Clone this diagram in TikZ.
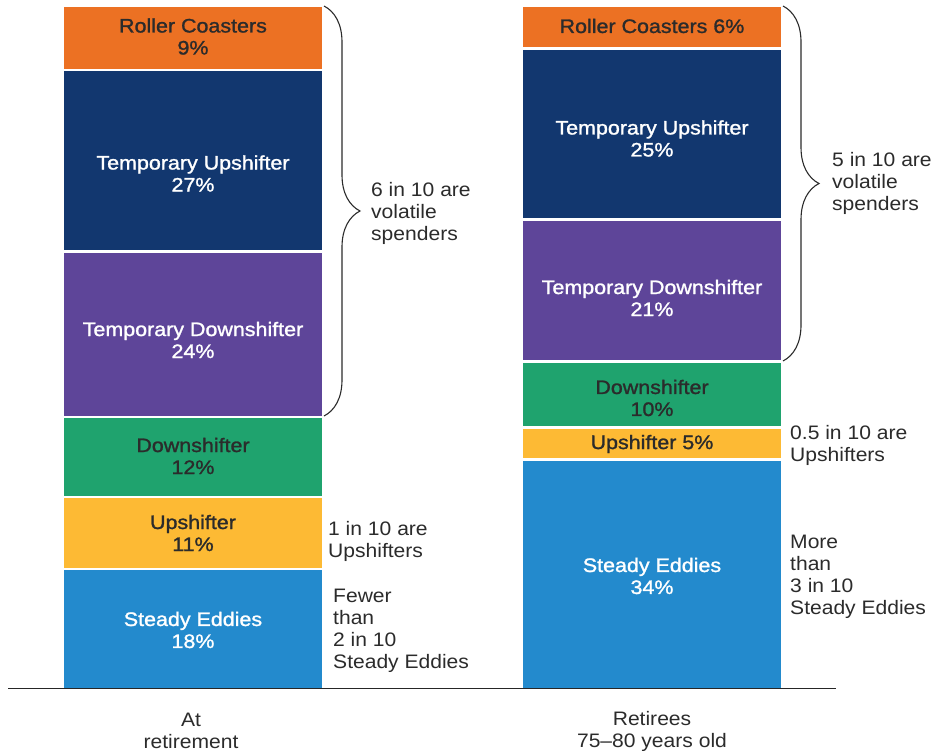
\documentclass[tikz,border=0pt]{standalone}
\usepackage{fontspec}
\setmainfont{Liberation Sans}[FakeStretch=1.08]
\newfontfamily\barfont{Liberation Sans}[FakeStretch=1.1,FakeBold=1.3]
\usetikzlibrary{decorations.pathreplacing}

\definecolor{coasterC}{HTML}{EC7123}
\definecolor{tempupC}{HTML}{12376F}
\definecolor{tempdownC}{HTML}{5E4599}
\definecolor{downC}{HTML}{1FA36E}
\definecolor{upC}{HTML}{FDBA34}
\definecolor{steadyC}{HTML}{238ACD}
\definecolor{inkC}{HTML}{2B2B2B}

\begin{document}
\begin{tikzpicture}[x=1pt, y=-1pt, font=\fontsize{19.5}{22}\selectfont,
    barlbl/.style={align=center, inner sep=0pt, font=\fontsize{19.5}{22}\selectfont\barfont},
    sidelbl/.style={align=left, anchor=west, inner sep=0pt, text=inkC},
    axislbl/.style={align=center, inner sep=0pt, text=inkC},
    curly/.style={decorate, decoration={brace, amplitude=36pt}, inkC, line width=1.1pt}]
        \useasboundingbox (0,0) rectangle (933,754);

        % at retirement
        \fill[coasterC] (64,7) rectangle (322,69);
        \fill[tempupC] (64,71) rectangle (322,250);
        \fill[tempdownC] (64,253) rectangle (322,415.5);
        \fill[downC] (64,418) rectangle (322,495.5);
        \fill[upC] (64,498) rectangle (322,567.5);
        \fill[steadyC] (64,570) rectangle (322,688);

        \node[barlbl, text=inkC] (lcoast) at (193,36.5) {Roller Coasters\\9\%};
        \node[barlbl, text=white] (ltempup) at (193,173.5) {Temporary Upshifter\\27\%};
        \node[barlbl, text=white] (ltempdown) at (193,340) {Temporary Downshifter\\24\%};
        \node[barlbl, text=inkC] (ldown) at (193,456) {Downshifter\\12\%};
        \node[barlbl, text=inkC] (lup) at (193,533) {Upshifter\\11\%};
        \node[barlbl, text=white] (lsteady) at (193,630) {Steady Eddies\\18\%};

        % retirees 75-80
        \fill[coasterC] (523,7) rectangle (781,47);
        \fill[tempupC] (523,50) rectangle (781,218);
        \fill[tempdownC] (523,221) rectangle (781,360);
        \fill[downC] (523,363) rectangle (781,426);
        \fill[upC] (523,429) rectangle (781,458);
        \fill[steadyC] (523,461) rectangle (781,688);

        \node[barlbl, text=inkC] (rcoast) at (652,26) {Roller Coasters 6\%};
        \node[barlbl, text=white] (rtempup) at (652,138.5) {Temporary Upshifter\\25\%};
        \node[barlbl, text=white] (rtempdown) at (652,298) {Temporary Downshifter\\21\%};
        \node[barlbl, text=inkC] (rdown) at (652,398) {Downshifter\\10\%};
        \node[barlbl, text=inkC] (rup) at (652,444) {Upshifter 5\%};
        \node[barlbl, text=white] (rsteady) at (652,576) {Steady Eddies\\34\%};

        % braces
        \coordinate (lbtop) at (324,6);
        \coordinate (lbbot) at (324,416);
        \coordinate (rbtop) at (783,6);
        \coordinate (rbbot) at (783,361);
        \draw[curly] (lbtop) -- (lbbot);
        \draw[curly] (rbtop) -- (rbbot);

        % side notes
        \node[sidelbl] (lvolatile) at (371,213) {6 in 10 are\\volatile\\spenders};
        \node[sidelbl] (lupnote) at (328,541) {1 in 10 are\\Upshifters};
        \node[sidelbl] (lsteadynote) at (333,631) {Fewer\\than\\2 in 10\\Steady Eddies};
        \node[sidelbl] (rvolatile) at (832,183) {5 in 10 are\\volatile\\spenders};
        \node[sidelbl] (rupnote) at (790,445) {0.5 in 10 are\\Upshifters};
        \node[sidelbl] (rsteadynote) at (790,577) {More\\than\\3 in 10\\Steady Eddies};

        % axis
        \coordinate (axisL) at (8,688.5);
        \coordinate (axisR) at (836,688.5);
        \draw[line width=1.5pt, black!85] (axisL) -- (axisR);
        \node[axislbl] (lcat) at (191,731) {At\\retirement};
        \node[axislbl] (rcat) at (652,731) {Retirees\\75--80 years old};
\end{tikzpicture}
\end{document}
